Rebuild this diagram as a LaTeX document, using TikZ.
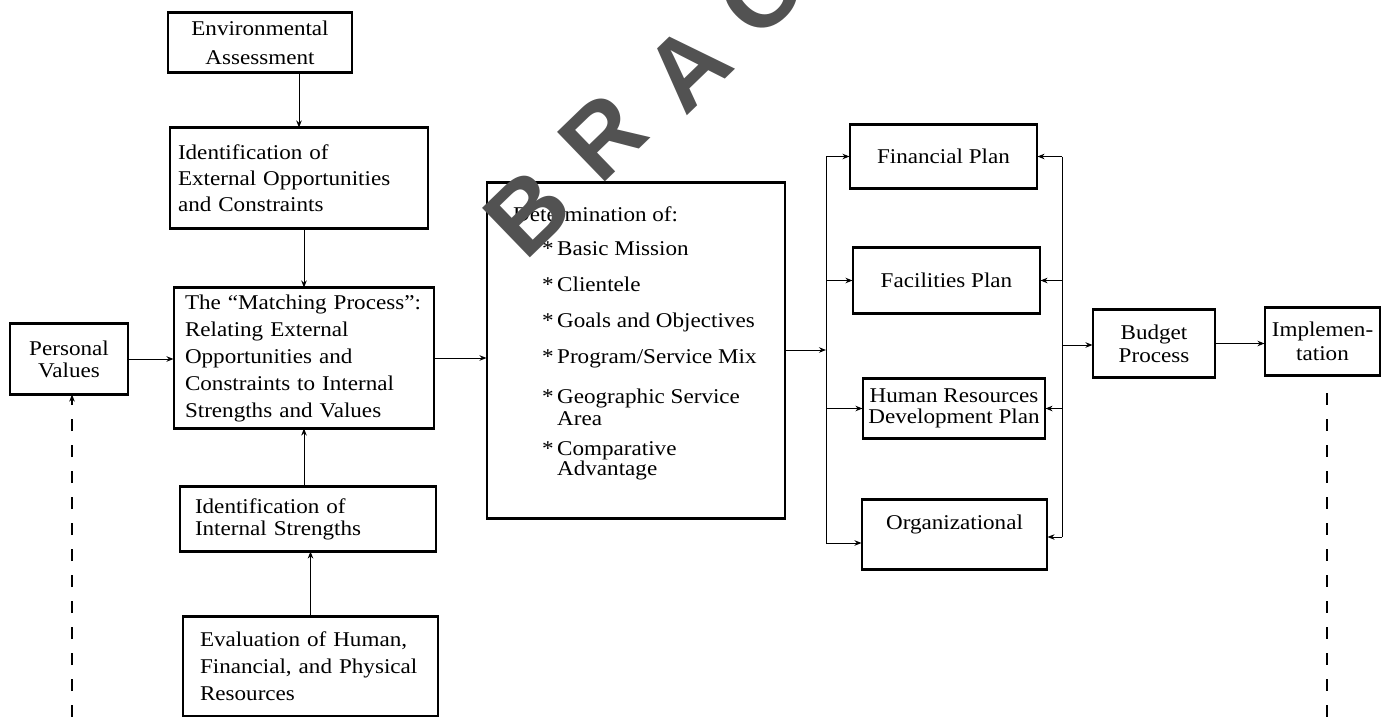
\documentclass[tikz,border=0pt]{standalone}
\usepackage{fontspec}
\setmainfont{Liberation Serif}[FakeStretch=1.1]
\newfontfamily\stampfont{Liberation Sans}
\usetikzlibrary{arrows.meta,calc}
\newcommand\dgfont[1]{\fontsize{21}{#1}\selectfont}

\begin{document}
\begin{tikzpicture}[x=1pt,y=-1pt,
  every node/.style={font=\dgfont{26}},
  box/.style={draw, line width=1.1pt, inner ysep=0pt},
  rim/.style={line width=2.6pt},
  wire/.style={line width=1pt},
  link/.style={line width=1pt, -{Stealth[length=7pt,width=5.5pt]}},
  feed/.style={line width=1.3pt, dash pattern=on 12pt off 14pt},
  lbl/.style={anchor=base west, inner sep=0pt},
  stamp/.style={font=\stampfont\bfseries\fontsize{100}{100}\selectfont, text=black!68, inner sep=0pt, rotate=44}
]
\useasboundingbox (0,0) rectangle (1382,717);

% left column: assessment and matching
\node[box, minimum width=184pt, minimum height=59pt, align=center, font=\dgfont{29}] (env) at (260,42.5) {Environmental\\Assessment};
\node[box, minimum height=100pt, text width=242pt, inner xsep=8pt, align=left] (ext) at (299,178)
  {Identification of\\\mbox{External Opportunities}\\and Constraints};
\node[box, minimum height=140pt, text width=238pt, inner xsep=11pt, align=left, font=\dgfont{27}] (match) at (304,358)
  {The “Matching Process”:\\Relating External\\Opportunities and\\\mbox{Constraints to Internal}\\Strengths and Values};
\node[box, minimum width=118pt, minimum height=70pt, align=center, font=\dgfont{22}] (pv) at (69,359) {Personal\\Values};
\node[box, minimum height=64pt, text width=226pt, inner xsep=15pt, align=left, font=\dgfont{22}] (int) at (308,519)
  {Identification of\\Internal Strengths};
\node[box, minimum height=99pt, text width=221pt, inner xsep=17pt, align=left, font=\dgfont{27}] (eval) at (310.5,666.5)
  {\mbox{Evaluation of Human,}\\\mbox{Financial, and Physical}\\Resources};

% determination box
\node[box, minimum width=298pt, minimum height=335pt] (det) at (636,350.5) {};
\node[lbl] (dtitle) at (513,221) {Determination of:};
\node[lbl] (k1) at (542,255) {*};
\node[lbl] (t1) at (557,255) {Basic Mission};
\node[lbl] (k2) at (542,291) {*};
\node[lbl] (t2) at (557,291) {Clientele};
\node[lbl] (k3) at (542,327) {*};
\node[lbl] (t3) at (557,327) {Goals and Objectives};
\node[lbl] (k4) at (542,363) {*};
\node[lbl] (t4) at (557,363) {Program/Service Mix};
\node[lbl] (k5) at (542,403) {*};
\node[lbl] (t5) at (557,403) {Geographic Service};
\node[lbl] (t5b) at (557,425) {Area};
\node[lbl] (k6) at (542,455) {*};
\node[lbl] (t6) at (557,455) {Comparative};
\node[lbl] (t6b) at (557,475) {Advantage};

% functional plans
\node[box, minimum width=187pt, minimum height=63pt] (fin) at (943.5,156.5) {Financial Plan};
\node[box, minimum width=187pt, minimum height=65pt] (fac) at (946.5,280.5) {Facilities Plan};
\node[box, minimum width=182pt, minimum height=59pt, align=center, font=\dgfont{21}] (hr) at (954,408.5) {Human Resources\\Development Plan};
\node[box, minimum width=185pt, minimum height=69pt, align=center, font=\dgfont{24}] (org) at (954.5,534.5) {Organizational\\\phantom{Plan}};

% budget and implementation
\node[box, minimum width=122pt, minimum height=67pt, align=center, font=\dgfont{23}] (bud) at (1154,343.5) {Budget\\Process};
\node[box, minimum width=115pt, minimum height=67pt, align=center, font=\dgfont{24}] (imp) at (1322.5,341.5) {Implemen-\\tation};

% heavier top and bottom rules of the boxes
\foreach \n in {env,ext,match,pv,int,eval,det,fin,fac,hr,org,bud,imp}{
  \draw[rim] (\n.north west) -- (\n.north east);
  \draw[rim] (\n.south west) -- (\n.south east);
}

% connectors in the left column
\draw[link] (env.south -| ext.north) -- (ext.north);
\draw[link] (ext.south -| match.north) -- (match.north);
\draw[link] (int.north -| match.south) -- (match.south);
\draw[link] (eval.north) -- (eval.north |- int.south);
\draw[link] (pv.east) -- (pv.east -| match.west);
\draw[link] (match.east) -- (match.east -| det.west);

% distribution to the plans
\coordinate (ltop) at (826,156.5);
\coordinate (ljoin) at (826,350);
\coordinate (lbot) at (826,543);
\draw[wire] (ltop) -- (lbot);
\draw[link] (det.east |- ljoin) -- (ljoin);
\draw[link] (ltop) -- (fin.west);
\draw[link] (ltop |- fac.west) -- (fac.west);
\draw[link] (ltop |- hr.west) -- (hr.west);
\draw[link] (lbot) -- (lbot -| org.west);

% collection into the budget
\coordinate (rtop) at (1062,156.5);
\coordinate (rjoin) at (1062,345);
\coordinate (rbot) at (1062,537);
\draw[wire] (rtop) -- (rbot);
\draw[link] (rtop) -- (fin.east);
\draw[link] (rtop |- fac.east) -- (fac.east);
\draw[link] (rtop |- hr.east) -- (hr.east);
\draw[link] (rbot) -- (rbot -| org.east);
\draw[link] (rjoin) -- (rjoin -| bud.west);
\draw[link] (bud.east) -- (bud.east -| imp.west);

% feedback lines
\coordinate (pvfoot) at (72,717);
\draw[feed, -{Stealth[length=7pt,width=5.5pt]}] (pvfoot) -- (pvfoot |- pv.south);
\coordinate (impstart) at (1327,393);
\coordinate (impfoot) at (1327,717);
\draw[feed] (impstart) -- (impfoot);

% stamp lettering
\node[stamp] (sB) at (528,213) {B};
\node[stamp] (sR) at (603,137) {R};
\node[stamp] (sA) at (688,68) {A};
\node[stamp] (sO) at (762,-8) {O};
\end{tikzpicture}
\end{document}
